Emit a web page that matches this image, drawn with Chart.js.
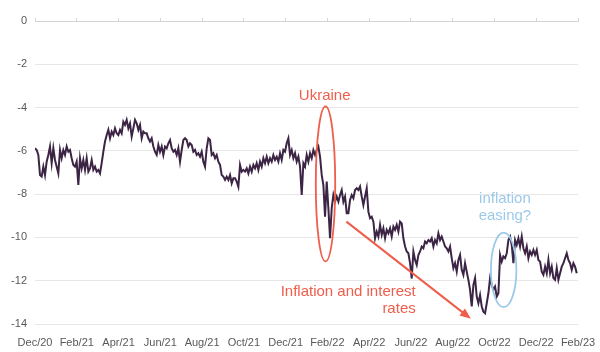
<!DOCTYPE html>
<html>
<head>
<meta charset="utf-8">
<script src="https://cdn.jsdelivr.net/npm/chart.js@4/dist/chart.umd.min.js"></script>
<style>
  html, body { margin: 0; padding: 0; background: #ffffff; }
  #wrap { width: 600px; height: 352px; }
</style>
</head>
<body>
<div id="wrap"><canvas id="c" width="600" height="352"></canvas></div>
<script>
// ---- Data ----
const xLabels = ['Dec/20','Feb/21','Apr/21','Jun/21','Aug/21','Oct/21','Dec/21',
                 'Feb/22','Apr/22','Jun/22','Aug/22','Oct/22','Dec/22','Feb/23'];
const yTicks = [0, -2, -4, -6, -8, -10, -12, -14];

// Observation period, in months after Dec/20 (evenly spaced observations)
const firstMonth = 0;
const lastMonth = 25.94;

const values2021a = [
  -5.88,-5.96,-6.19,-7.12,-7.19,-6.73,-7.12,-6.50,-6.19,-5.80,
  -6.57,-5.88,-6.42,-6.73,-7.04,-5.96,-6.34,-5.96,-6.19,-5.80,
  -6.04,-5.96,-6.34,-6.65,-6.73,-6.50,-7.58,-6.34,-6.81,-6.42,
  -6.88,-6.34,-6.96,-6.81,-6.42,-6.88,-6.73,-6.96,-6.88,-7.04,
  -6.57,-6.04,-5.57,-5.27,-5.03,-5.42,-5.11,-5.27,-4.96,-5.19,
  -5.27,-5.03,-5.19,-4.65,-4.80,-4.57,-4.96,-4.73,-5.34,-4.96,
  -4.57,-4.73,-5.03,-4.80,-5.42,-5.11,-5.19
];
const values2021b = [
  -5.19,-5.42,-5.57,-5.42,-5.80,-6.04,-6.19,-5.73,-6.04,-5.80,
  -6.19,-5.80,-5.88,-5.65,-5.50,-5.88,-6.04,-5.96,-6.19,-5.88,
  -6.50,-5.96,-5.50,-5.42,-5.50,-5.80,-5.65,-5.73,-6.04,-5.96,
  -6.19,-6.11,-6.27,-6.04,-6.50,-6.73,-5.88,-5.42,-5.50,-6.19,
  -6.11,-6.34,-6.19,-6.50,-6.65,-7.12,-7.19,-7.34,-7.19,-7.34,
  -7.12,-7.50,-7.27,-7.27,-7.42,-7.66,-6.65,-6.96,-6.88,-6.96,
  -6.81,-7.04,-6.73,-6.96,-6.65,-6.81
];
const values2022a = [
  -6.57,-6.88,-6.50,-6.73,-6.34,-6.57,-6.27,-6.57,-6.34,-6.50,
  -6.19,-6.42,-6.27,-6.50,-6.11,-6.42,-5.96,-6.04,-5.65,-5.42,
  -6.19,-5.96,-6.34,-6.11,-6.50,-6.27,-6.73,-8.04,-6.57,-6.73,
  -6.19,-6.50,-6.11,-6.34,-5.96,-6.19,-5.96,-5.80,-6.27,-7.11,
  -7.58,-9.04,-7.42,-8.65,-10.04,-8.65,-8.04,-8.35,-8.11,-8.35,
  -8.04,-7.81,-8.35,-8.11,-8.88,-8.88,-8.27,-8.04,-8.19,-7.81,
  -7.73,-7.81,-7.65,-8.11,-8.50,-8.11
];
const values2022b = [
  -7.73,-8.81,-9.11,-9.04,-9.27,-10.04,-9.73,-9.96,-9.42,-9.88,
  -9.58,-10.04,-9.65,-9.81,-9.58,-9.96,-9.50,-9.65,-9.42,-9.73,
  -9.27,-9.35,-10.04,-10.42,-10.65,-10.73,-11.19,-11.90,-10.65,-11.04,
  -11.27,-10.81,-10.65,-10.42,-10.50,-10.19,-10.27,-10.12,-10.19,-10.04,
  -10.42,-10.12,-10.27,-9.81,-10.12,-9.96,-10.19,-10.42,-10.50,-10.65,
  -10.42,-10.96,-11.42,-11.19,-11.58,-11.04,-10.81,-11.50,-11.73,-11.19,
  -11.58,-11.96,-12.42,-13.19,-12.19,-11.88
];
const values2023 = [
  -12.73,-13.04,-12.66,-13.19,-13.43,-13.50,-13.04,-12.58,-11.88,-12.19,
  -12.42,-12.27,-12.73,-12.58,-10.81,-11.12,-10.88,-10.96,-10.73,-10.12,
  -9.96,-10.35,-11.19,-10.12,-10.35,-10.04,-10.42,-9.96,-10.50,-10.73,
  -10.42,-10.96,-10.65,-10.81,-10.58,-10.81,-10.58,-11.04,-11.12,-11.58,
  -11.73,-11.35,-11.66,-11.04,-11.66,-11.35,-11.88,-11.96,-11.42,-11.96,
  -11.66,-11.35,-11.19,-10.96,-10.73,-11.04,-11.19,-11.50,-11.19,-11.35,
  -11.66
];

const allValues = [].concat(values2021a, values2021b, values2022a, values2022b, values2023);
const stepMonths = (lastMonth - firstMonth) / (allValues.length - 1);
const points = allValues.map((v, i) => ({ x: firstMonth + i * stepMonths, y: v }));

// Annotation anchors in data units (months after Dec/20, index value)
const ukraineLabel = { x: 13.87, y: -3.46, text: 'Ukraine' };
const ukraineEllipse = { x: 13.91, y: -7.53, rx: 0.465, ry: 3.58 };
const ratesArrow = { x1: 14.91, y1: -9.27, x2: 20.87, y2: -13.76 };
const ratesLabel = { x: 18.23, lines: [['Inflation and interest', -12.52], ['rates', -13.30]] };
const easingLabel = { x: 22.5, lines: [['inflation', -8.22], ['easing?', -9.0]] };
const easingEllipse = { x: 22.44, y: -11.5, rx: 0.61, ry: 1.72 };

const RED = '#EF5D4B';
const BLUE = '#9CC9EA';
const FONT = '"Liberation Sans", Arial, sans-serif';

const annotationPlugin = {
  id: 'notes',
  afterDatasetsDraw(chart) {
    const { ctx, scales: { x, y } } = chart;
    const px = v => x.getPixelForValue(v);
    const py = v => y.getPixelForValue(v);
    ctx.save();

    // Ukraine
    ctx.font = '15px ' + FONT;
    ctx.fillStyle = RED;
    ctx.textAlign = 'center';
    ctx.textBaseline = 'middle';
    ctx.fillText(ukraineLabel.text, px(ukraineLabel.x), py(ukraineLabel.y));

    ctx.strokeStyle = RED;
    ctx.lineWidth = 1.8;
    ctx.beginPath();
    ctx.ellipse(px(ukraineEllipse.x), py(ukraineEllipse.y),
      Math.abs(px(ukraineEllipse.x + ukraineEllipse.rx) - px(ukraineEllipse.x)),
      Math.abs(py(ukraineEllipse.y + ukraineEllipse.ry) - py(ukraineEllipse.y)),
      0, 0, Math.PI * 2);
    ctx.stroke();

    // Arrow
    const ax1 = px(ratesArrow.x1), ay1 = py(ratesArrow.y1);
    const ax2 = px(ratesArrow.x2), ay2 = py(ratesArrow.y2);
    const ang = Math.atan2(ay2 - ay1, ax2 - ax1);
    const headLen = 11, headW = 4.5;
    ctx.lineWidth = 2;
    ctx.beginPath();
    ctx.moveTo(ax1, ay1);
    ctx.lineTo(ax2 - Math.cos(ang) * headLen * 0.8, ay2 - Math.sin(ang) * headLen * 0.8);
    ctx.stroke();
    ctx.beginPath();
    ctx.moveTo(ax2, ay2);
    ctx.lineTo(ax2 - Math.cos(ang) * headLen + Math.sin(ang) * headW,
               ay2 - Math.sin(ang) * headLen - Math.cos(ang) * headW);
    ctx.lineTo(ax2 - Math.cos(ang) * headLen - Math.sin(ang) * headW,
               ay2 - Math.sin(ang) * headLen + Math.cos(ang) * headW);
    ctx.closePath();
    ctx.fill();

    ctx.textAlign = 'right';
    ratesLabel.lines.forEach(([t, v]) => ctx.fillText(t, px(ratesLabel.x), py(v)));

    // Inflation easing
    ctx.fillStyle = BLUE;
    ctx.strokeStyle = BLUE;
    ctx.textAlign = 'center';
    easingLabel.lines.forEach(([t, v]) => ctx.fillText(t, px(easingLabel.x), py(v)));
    ctx.lineWidth = 1.8;
    ctx.beginPath();
    ctx.ellipse(px(easingEllipse.x), py(easingEllipse.y),
      Math.abs(px(easingEllipse.x + easingEllipse.rx) - px(easingEllipse.x)),
      Math.abs(py(easingEllipse.y + easingEllipse.ry) - py(easingEllipse.y)),
      0, 0, Math.PI * 2);
    ctx.stroke();

    ctx.restore();
  }
};

const tickFont = { family: FONT, size: 11 };

new Chart(document.getElementById('c'), {
  type: 'line',
  data: {
    datasets: [{
      data: points,
      borderColor: '#3b2444',
      borderWidth: 2,
      pointRadius: 0,
      tension: 0,
      fill: false,
      xAxisID: 'x',
      yAxisID: 'y'
    }]
  },
  options: {
    responsive: false,
    animation: false,
    devicePixelRatio: 1,
    layout: { padding: { left: 0, right: 22, top: 0, bottom: 0 } },
    plugins: { legend: { display: false }, tooltip: { enabled: false } },
    scales: {
      x: {
        type: 'linear',
        position: 'bottom',
        min: 0,
        max: (xLabels.length - 1) * 2,
        ticks: {
          stepSize: 2,
          autoSkip: false,
          maxRotation: 0,
          padding: 4,
          color: '#595959',
          font: tickFont,
          callback: v => xLabels[Math.round(v / 2)]
        },
        grid: { display: false },
        border: { display: false },
        afterFit: s => { s.height = 28; }
      },
      x2: {
        type: 'linear',
        position: 'top',
        min: 0,
        max: (xLabels.length - 1) * 2,
        ticks: { display: false, stepSize: 2 },
        grid: { drawOnChartArea: false, drawTicks: true, tickLength: 3, color: '#d4d4d4' },
        border: { display: true, color: '#d4d4d4' },
        afterFit: s => { s.height = 21; }
      },
      y: {
        min: yTicks[yTicks.length - 1],
        max: yTicks[0],
        afterBuildTicks: s => { s.ticks = yTicks.map(v => ({ value: v })); },
        ticks: { padding: 8, color: '#595959', font: tickFont },
        grid: { color: '#e6e6e6', drawTicks: false },
        border: { display: false },
        afterFit: s => { s.width = 35; }
      }
    }
  },
  plugins: [annotationPlugin]
});
</script>
</body>
</html>
